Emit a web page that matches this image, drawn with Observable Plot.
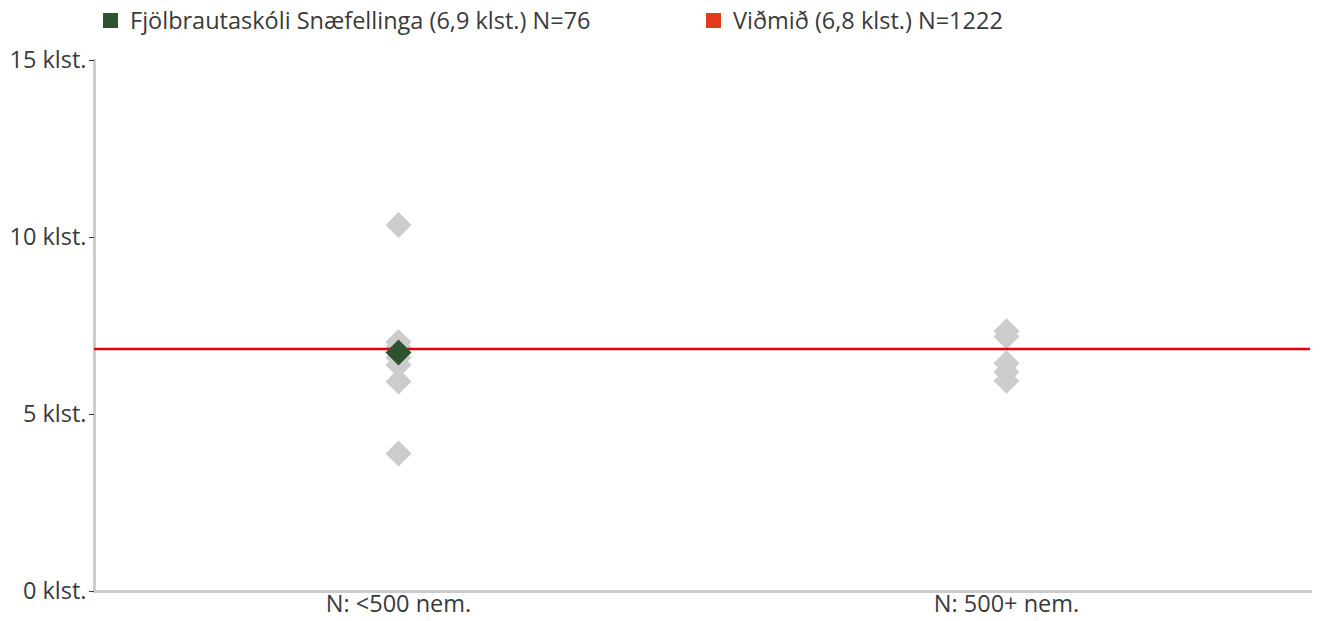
<!DOCTYPE html>
<html>
<head>
<meta charset="utf-8">
<script src="https://cdn.jsdelivr.net/npm/d3@7"></script>
<script src="https://cdn.jsdelivr.net/npm/@observablehq/plot@0.6"></script>
<style>
  body { margin: 0; background: #fff; font-family: "Open Sans", sans-serif; }
  #legend { position: relative; height: 40px; font-size: 23.5px; color: #3a3a3a; }
  .item { position: absolute; top: 4px; display: flex; align-items: center; white-space: nowrap; }
  .sw { width: 15px; height: 15px; margin-right: 12px; display: inline-block; }
  #chart svg { display: block; }
</style>
</head>
<body>
<div id="legend">
  <div class="item" style="left:103px"><span class="sw" style="background:#2e5230"></span><span id="l1"></span></div>
  <div class="item" style="left:706px"><span class="sw" style="background:#e03c1c"></span><span id="l2"></span></div>
</div>
<div id="chart"></div>
<script>
const categories = ["N: <500 nem.", "N: 500+ nem."];
const smallSchools = [10.35, 7.05, 6.9, 6.6, 6.4, 5.93, 3.9];
const largeSchools = [7.35, 7.2, 6.45, 6.2, 5.95];
const schoolName = "Fjölbrautaskóli Snæfellinga";
const schoolValue = 6.75;
const schoolGroup = "N: <500 nem.";
const referenceValue = 6.85;
const legendLabels = ["Fjölbrautaskóli Snæfellinga (6,9 klst.) N=76", "Viðmið (6,8 klst.) N=1222"];
const yTicks = [0, 5, 10, 15];

document.getElementById("l1").textContent = legendLabels[0];
document.getElementById("l2").textContent = legendLabels[1];

const others = [
  ...smallSchools.map(v => ({group: categories[0], value: v})),
  ...largeSchools.map(v => ({group: categories[1], value: v}))
];

const plot = Plot.plot({
  width: 1320,
  height: 581,
  marginTop: 20,
  marginBottom: 30,
  marginLeft: 94,
  marginRight: 10,
  style: {fontFamily: "'Open Sans', sans-serif", fontSize: "23.5px", color: "#3a3a3a", background: "#fff"},
  x: {type: "band", domain: categories, padding: 0, label: null},
  y: {domain: [0, 15], label: null},
  marks: [
    Plot.frame({anchor: "left", stroke: "#cccccc", strokeWidth: 3}),
    Plot.frame({anchor: "bottom", stroke: "#cccccc", strokeWidth: 3}),
    Plot.axisY({ticks: yTicks, tickFormat: d => d + " klst.", tickSize: 5, tickPadding: 3, stroke: "#3a3a3a", fontSize: 23.5}),
    Plot.axisX({tickSize: 0, tickPadding: 4, fontSize: 23.5}),
    Plot.dot(others, {x: "group", y: "value", symbol: "diamond2", r: 11.7, fill: "#cccccc", stroke: null}),
    Plot.ruleY([referenceValue], {stroke: "#e8000b", strokeWidth: 2.5}),
    Plot.dot([{group: schoolGroup, value: schoolValue, name: schoolName}], {x: "group", y: "value", symbol: "diamond2", r: 11.7, fill: "#2e5230"})
  ]
});
document.getElementById("chart").appendChild(plot);
</script>
</body>
</html>
